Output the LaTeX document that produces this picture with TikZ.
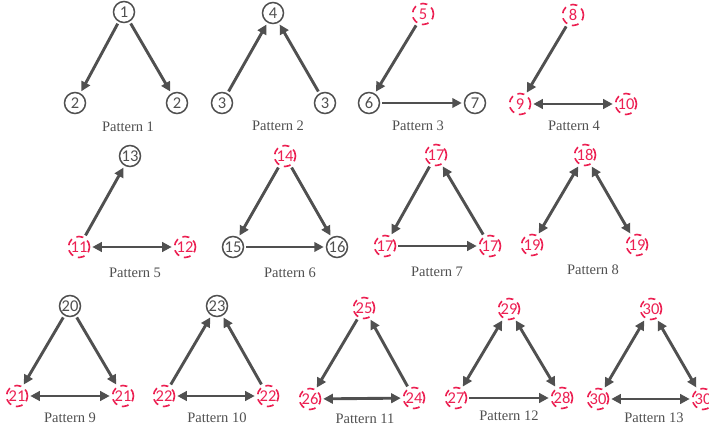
\documentclass[tikz,border=0pt]{standalone}
\usepackage{fontspec}
\setmainfont{Liberation Serif}
\newfontfamily\numfont{Carlito}
\usetikzlibrary{arrows.meta}
\definecolor{ink}{RGB}{80,80,80}
\definecolor{pink}{RGB}{236,32,82}
\tikzset{
  nd/.style={circle,draw=ink,line width=1.5pt,minimum size=21pt,inner sep=0pt,text=ink,font=\numfont\fontsize{16.5}{16}\selectfont},
  rd/.style={circle,draw=pink,line width=1.6pt,dash pattern=on 7pt off 5pt,minimum size=21pt,inner sep=0pt,text=pink,font=\numfont\fontsize{16.5}{16}\selectfont},
  lab/.style={text=ink,font=\fontsize{14.5}{15}\selectfont},
  ar/.style={draw=ink,line width=2.9pt,-{Triangle[length=9.5pt,width=9.5pt]},shorten >=2pt,shorten <=2pt},
  br/.style={draw=ink,line width=2.9pt,{Triangle[length=9.5pt,width=9.5pt]}-{Triangle[length=9.5pt,width=9.5pt]},shorten >=2pt,shorten <=2pt}
}
\begin{document}
\begin{tikzpicture}[x=1pt,y=-1pt]
\useasboundingbox (0,0) rectangle (709,427);
% Pattern 1
\node[nd] (a1) at (124,12) {1};
\node[nd] (a2) at (75,103) {2};
\node[nd] (a3) at (177,103) {2};
\draw[ar] (a1) -- (a2);
\draw[ar] (a1) -- (a3);
\node[lab] (la) at (128,127) {Pattern 1};
% Pattern 2
\node[nd] (b1) at (273,13) {4};
\node[nd] (b2) at (222,103) {3};
\node[nd] (b3) at (325,103) {3};
\draw[ar] (b2) -- (b1);
\draw[ar] (b3) -- (b1);
\node[lab] (lb) at (278,126) {Pattern 2};
% Pattern 3
\node[rd] (c1) at (423,14) {5};
\node[nd] (c2) at (369,103) {6};
\node[nd] (c3) at (475,103) {7};
\draw[ar] (c1) -- (c2);
\draw[ar] (c2) -- (c3);
\node[lab] (lc) at (418,126) {Pattern 3};
% Pattern 4
\node[rd] (d1) at (573,15) {8};
\node[rd] (d2) at (520,104) {9};
\node[rd] (d3) at (626,104) {10};
\draw[ar] (d1) -- (d2);
\draw[br] (d2) -- (d3);
\node[lab] (ld) at (574,126) {Pattern 4};
% Pattern 5
\node[nd] (e1) at (130,156) {13};
\node[rd] (e2) at (79,247) {11};
\node[rd] (e3) at (185,247) {12};
\draw[ar] (e2) -- (e1);
\draw[br] (e2) -- (e3);
\node[lab] (le) at (135,273) {Pattern 5};
% Pattern 6
\node[rd] (f1) at (285,156) {14};
\node[nd] (f2) at (233,247) {15};
\node[nd] (f3) at (337,247) {16};
\draw[ar] (f1) -- (f2);
\draw[ar] (f1) -- (f3);
\draw[ar] (f2) -- (f3);
\node[lab] (lf) at (290,273) {Pattern 6};
% Pattern 7
\node[rd] (g1) at (436,155) {17};
\node[rd] (g2) at (385,246) {17};
\node[rd] (g3) at (490,246) {17};
\draw[ar] (g1) -- (g2);
\draw[ar] (g2) -- (g3);
\draw[ar] (g3) -- (g1);
\node[lab] (lg) at (437,272) {Pattern 7};
% Pattern 8
\node[rd] (h1) at (585,155) {18};
\node[rd] (h2) at (532,245) {19};
\node[rd] (h3) at (637,245) {19};
\draw[br] (h1) -- (h2);
\draw[br] (h1) -- (h3);
\node[lab] (lh) at (593,270) {Pattern 8};
% Pattern 9
\node[nd] (i1) at (70,306) {20};
\node[rd] (i2) at (17,396) {21};
\node[rd] (i3) at (123,396) {21};
\draw[ar] (i1) -- (i2);
\draw[ar] (i1) -- (i3);
\draw[br] (i2) -- (i3);
\node[lab] (li) at (70,418) {Pattern 9};
% Pattern 10
\node[nd] (j1) at (217,306) {23};
\node[rd] (j2) at (164,396) {22};
\node[rd] (j3) at (268,396) {22};
\draw[ar] (j2) -- (j1);
\draw[ar] (j3) -- (j1);
\draw[br] (j2) -- (j3);
\node[lab] (lj) at (217,418) {Pattern 10};
% Pattern 11
\node[rd] (k1) at (364,308) {25};
\node[rd] (k2) at (310,399) {26};
\node[rd] (k3) at (414,398) {24};
\draw[ar] (k1) -- (k2);
\draw[br] (k2) -- (k3);
\draw[ar] (k3) -- (k1);
\node[lab] (lk) at (365,419) {Pattern 11};
% Pattern 12
\node[rd] (m1) at (509,309) {29};
\node[rd] (m2) at (456,398) {27};
\node[rd] (m3) at (562,398) {28};
\draw[br] (m1) -- (m2);
\draw[br] (m1) -- (m3);
\draw[ar] (m2) -- (m3);
\node[lab] (lm) at (509,416) {Pattern 12};
% Pattern 13
\node[rd] (n1) at (651,309) {30};
\node[rd] (n2) at (598,399) {30};
\node[rd] (n3) at (703,399) {30};
\draw[br] (n1) -- (n2);
\draw[br] (n1) -- (n3);
\draw[br] (n2) -- (n3);
\node[lab] (ln) at (654,418) {Pattern 13};
\end{tikzpicture}
\end{document}
